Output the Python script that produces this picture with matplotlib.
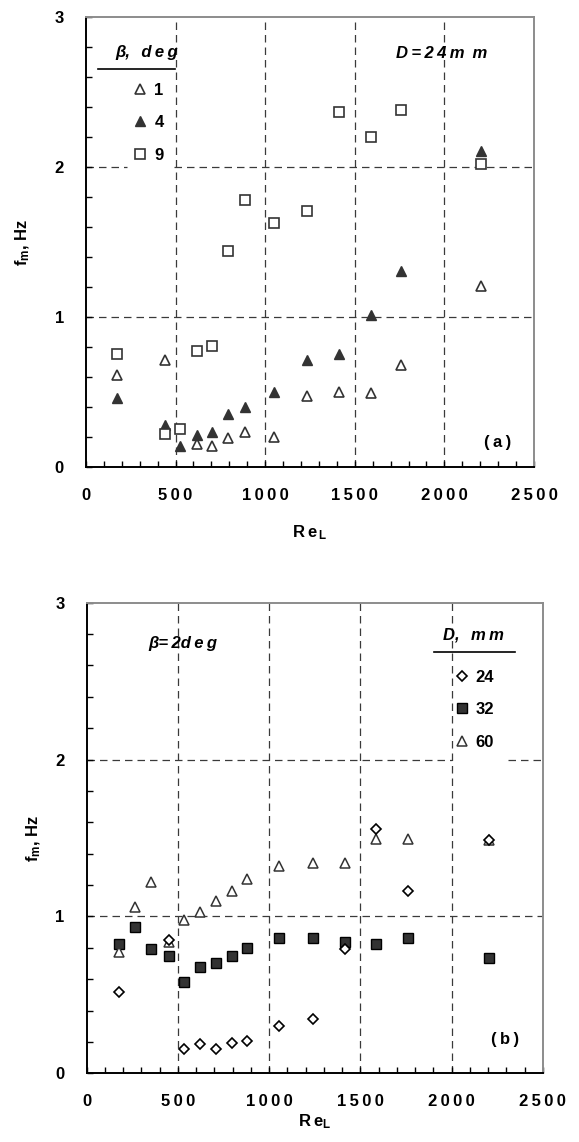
import matplotlib
matplotlib.use("Agg")
from matplotlib import pyplot as plt
from matplotlib.ticker import MultipleLocator, FuncFormatter
from matplotlib.lines import Line2D

plt.rcParams["font.family"] = ["Liberation Sans", "DejaVu Sans"]
plt.rcParams["mathtext.fontset"] = "custom"
plt.rcParams["mathtext.rm"] = "Liberation Sans:bold"
plt.rcParams["mathtext.it"] = "Liberation Sans:bold:italic"
plt.rcParams["mathtext.bf"] = "Liberation Sans:bold"

# ---- panel (a): D = 24 mm, three divergence angles ----
re_a = [175, 439, 526, 621, 703, 791, 889, 1051, 1232, 1413, 1591, 1760, 2205]
re_b1 = [175, 439, 621, 703, 791, 889, 1051, 1232, 1413, 1591, 1760, 2205]
f_beta1 = [0.61, 0.71, 0.15, 0.14, 0.19, 0.23, 0.20, 0.47, 0.50, 0.49, 0.68, 1.21]
f_beta4 = [0.46, 0.28, 0.14, 0.21, 0.23, 0.35, 0.40, 0.50, 0.71, 0.75, 1.01, 1.31, 2.11]
f_beta9 = [0.755, 0.22, 0.25, 0.77, 0.805, 1.44, 1.78, 1.625, 1.71, 2.37, 2.205, 2.38, 2.02]
labels_a = ["1", "4", "9"]

# ---- panel (b): beta = 2 deg, three diameters ----
re_d24 = [177, 449, 533, 620, 708, 795, 880, 1055, 1238, 1415, 1588, 1763, 2205]
f_d24 = [0.52, 0.85, 0.155, 0.185, 0.155, 0.195, 0.205, 0.30, 0.345, 0.79, 1.555, 1.16, 1.49]
re_b = [177, 263, 350, 449, 533, 620, 708, 795, 880, 1055, 1238, 1415, 1588, 1763, 2205]
f_d32 = [0.825, 0.93, 0.79, 0.75, 0.585, 0.675, 0.705, 0.75, 0.80, 0.86, 0.865, 0.84, 0.825, 0.865, 0.735]
f_d60 = [0.77, 1.06, 1.22, 0.835, 0.975, 1.03, 1.10, 1.16, 1.24, 1.32, 1.34, 1.34, 1.495, 1.495, 1.49]
labels_b = ["24", "32", "60"]

DARK = "#333333"
GRID = "#3a3a3a"
FS = 12
TS = "\u2009"  # thin space, the original type is letter-spaced

fig = plt.figure(figsize=(5.79, 11.42), dpi=100)
ax1 = fig.add_axes([0.1485, 0.5913, 0.7737, 0.3934])
ax2 = fig.add_axes([0.1497, 0.0602, 0.7880, 0.4120])


def spaced(v, _pos):
    return TS.join(f"{int(round(v))}")


def style_axes(ax):
    ax.set_xlim(0, 2500)
    ax.set_ylim(0, 3)
    ax.xaxis.set_major_locator(MultipleLocator(500))
    ax.xaxis.set_minor_locator(MultipleLocator(100))
    ax.yaxis.set_major_locator(MultipleLocator(1))
    ax.yaxis.set_minor_locator(MultipleLocator(0.2))
    ax.xaxis.set_major_formatter(FuncFormatter(spaced))
    ax.yaxis.set_major_formatter(FuncFormatter(spaced))
    ax.tick_params(which="both", direction="in", length=4, width=1, color="black")
    ax.tick_params(axis="x", pad=15, labelsize=FS)
    ax.tick_params(axis="y", pad=16, labelsize=FS)
    for lab in ax.get_xticklabels() + ax.get_yticklabels():
        lab.set_fontweight("bold")
    ax.spines["left"].set_color("black")
    ax.spines["bottom"].set_color("black")
    ax.spines["left"].set_linewidth(1.4)
    ax.spines["bottom"].set_linewidth(1.4)
    for s in ("top", "right"):
        ax.spines[s].set_color("#8c8c8c")
        ax.spines[s].set_linewidth(1.4)
    for xv in (500, 1000, 1500, 2000):
        ax.axvline(xv, color=GRID, lw=0.9, ls=(0, (6, 4)), zorder=1)
    ax.axhline(1, color=GRID, lw=0.9, ls=(0, (6, 4)), zorder=1)


style_axes(ax1)
style_axes(ax2)

# gridline at 2 is interrupted behind the legend boxes in the original
ax1.hlines(2, 0, 230, color=GRID, lw=0.9, ls=(0, (6, 4)), zorder=1)
ax1.hlines(2, 490, 2500, color=GRID, lw=0.9, ls=(0, (6, 4)), zorder=1)
ax2.hlines(2, 0, 2000, color=GRID, lw=0.9, ls=(0, (6, 4)), zorder=1)
ax2.hlines(2, 2310, 2500, color=GRID, lw=0.9, ls=(0, (6, 4)), zorder=1)

legend_kw = dict(loc="center left", frameon=False, borderpad=0, borderaxespad=0,
                 handlelength=0.8, handletextpad=0.45, labelspacing=1.05,
                 prop={"weight": "bold", "size": FS})
title_kw = dict(ha="center", va="center", fontsize=FS, fontweight="bold", fontstyle="italic")

# ---- panel (a) data ----
h1, = ax1.plot(re_b1, f_beta1, ls="none", marker="^", ms=7.5, mfc="white", mec=DARK, mew=1.2, zorder=3)
h4, = ax1.plot(re_a, f_beta4, ls="none", marker="^", ms=7.5, mfc=DARK, mec=DARK, mew=1.0, zorder=3)
h9, = ax1.plot(re_a, f_beta9, ls="none", marker="s", ms=7.5, mfc="white", mec=DARK, mew=1.2, zorder=3)

ax1.legend([h1, h4, h9], labels_a, bbox_to_anchor=(0.106, 0.766), **legend_kw)
ax1.text(0.136, 0.921, f"\u03b2,{TS} {TS}d{TS}e{TS}g", transform=ax1.transAxes, **title_kw)
ax1.add_line(Line2D([0.027, 0.199], [0.885, 0.885], transform=ax1.transAxes,
                    color="black", lw=1.2, clip_on=False))
ax1.text(0.794, 0.92, f"D{TS}={TS}2{TS}4{TS}m {TS}m", transform=ax1.transAxes, **title_kw)
ax1.text(0.918, 0.055, f"({TS}a{TS})", transform=ax1.transAxes, ha="center", va="center",
         fontsize=FS, fontweight="bold")
ax1.set_ylabel(r"f$_\mathregular{m}$, Hz", fontsize=FS, fontweight="bold")
ax1.yaxis.set_label_coords(-0.12, 0.5)
ax1.set_xlabel(f"R{TS}e" + r"$_{\,\mathregular{L}}$", fontsize=FS, fontweight="bold")
ax1.xaxis.set_label_coords(0.5, -0.125)

# ---- panel (b) data ----
g24, = ax2.plot(re_d24, f_d24, ls="none", marker="D", ms=5, mfc="white", mec="black", mew=1.2, zorder=4)
g32, = ax2.plot(re_b, f_d32, ls="none", marker="s", ms=7.5, mfc=DARK, mec="black", mew=1.0, zorder=3)
g60, = ax2.plot(re_b, f_d60, ls="none", marker="^", ms=7, mfc="white", mec=DARK, mew=1.1, zorder=3)

ax2.legend([g24, g32, g60], labels_b, bbox_to_anchor=(0.807, 0.773), **legend_kw)
ax2.text(0.847, 0.931, f"D,{TS} {TS}m{TS}m", transform=ax2.transAxes, **title_kw)
ax2.add_line(Line2D([0.762, 0.939], [0.895, 0.895], transform=ax2.transAxes,
                    color="black", lw=1.2, clip_on=False))
ax2.text(0.211, 0.914, f"\u03b2={TS}2d{TS}e{TS}g", transform=ax2.transAxes, **title_kw)
ax2.text(0.918, 0.071, f"({TS}b{TS})", transform=ax2.transAxes, ha="center", va="center",
         fontsize=FS, fontweight="bold")
ax2.set_ylabel(r"f$_\mathregular{m}$, Hz", fontsize=FS, fontweight="bold")
ax2.yaxis.set_label_coords(-0.096, 0.5)
ax2.set_xlabel(f"R{TS}e" + r"$_{\mathregular{L}}$", fontsize=FS, fontweight="bold")
ax2.xaxis.set_label_coords(0.5, -0.082)

fig.savefig("out.png", dpi=100)
